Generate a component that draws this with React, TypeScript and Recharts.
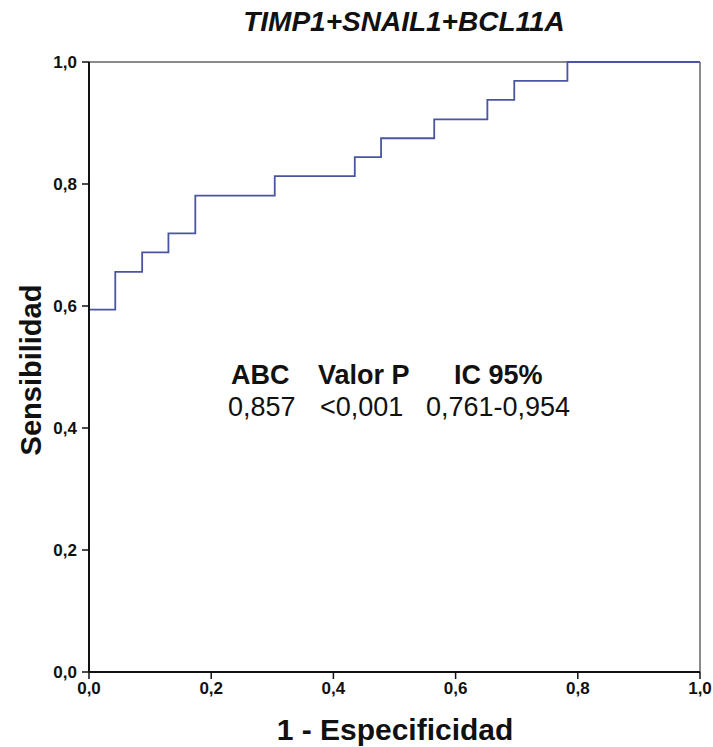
import { LineChart, Line, XAxis, YAxis, ReferenceLine } from 'recharts'

// ROC curve steps (1 - specificity, sensitivity)
const fpr = [0, 0.043, 0.087, 0.130, 0.174, 0.304, 0.435, 0.478, 0.565, 0.652, 0.696, 0.783, 1.0]
const tpr = [0.594, 0.656, 0.688, 0.719, 0.781, 0.813, 0.844, 0.875, 0.906, 0.938, 0.969, 1.0, 1.0]
const ticks = [0, 0.2, 0.4, 0.6, 0.8, 1.0]
const statHeads = ['ABC', 'Valor P', 'IC 95%']
const statValues = ['0,857', '<0,001', '0,761-0,954']

const rows = fpr.map((x, i) => ({ fpr: x, tpr: tpr[i] }))
const FONT = '"Liberation Sans", Arial, Helvetica, sans-serif'
const fmt = (v: number) => v.toFixed(1).replace('.', ',')
const tickStyle = { fill: '#111', fontSize: 17, fontWeight: 'bold', fontFamily: FONT }

export default function App() {
  return (
    <div style={{ position: 'absolute', left: 0, top: 0, width: 713, height: 747, background: '#fff' }}>
      <LineChart width={713} height={747} data={rows} margin={{ top: 62, right: 13, bottom: 0, left: 0 }}>
        <XAxis
          type="number"
          dataKey="fpr"
          domain={[0, 1]}
          ticks={ticks}
          tickFormatter={fmt}
          height={75}
          tickSize={7}
          tickMargin={3}
          axisLine={{ stroke: '#111', strokeWidth: 2 }}
          tickLine={{ stroke: '#111', strokeWidth: 1.5 }}
          tick={tickStyle}
        />
        <YAxis
          type="number"
          domain={[0, 1]}
          ticks={ticks}
          tickFormatter={fmt}
          width={89}
          tickSize={7}
          tickMargin={5}
          axisLine={{ stroke: '#111', strokeWidth: 2 }}
          tickLine={{ stroke: '#111', strokeWidth: 1.5 }}
          tick={tickStyle}
        />
        <ReferenceLine y={1} stroke="#8a8a8a" strokeWidth={2} />
        <ReferenceLine x={1} stroke="#8a8a8a" strokeWidth={2} />
        <Line type="stepAfter" dataKey="tpr" stroke="#4a55a0" strokeWidth={1.8} dot={false} isAnimationActive={false} />
      </LineChart>
      <svg width={713} height={747} style={{ position: 'absolute', left: 0, top: 0, pointerEvents: 'none' }}>
        <g fontFamily={FONT} fill="#111">
          <text x={404} y={31} textAnchor="middle" fontSize={28} fontWeight="bold" fontStyle="italic">
            TIMP1+SNAIL1+BCL11A
          </text>
          <text x={395} y={740} textAnchor="middle" fontSize={30} fontWeight="bold">
            1 - Especificidad
          </text>
          <text transform="translate(41,370) rotate(-90)" textAnchor="middle" fontSize={29} fontWeight="bold">
            Sensibilidad
          </text>
          <text x={231} y={384} fontSize={27} fontWeight="bold">{statHeads[0]}</text>
          <text x={318} y={384} fontSize={27} fontWeight="bold">{statHeads[1]}</text>
          <text x={454} y={384} fontSize={27} fontWeight="bold">{statHeads[2]}</text>
          <text x={228} y={416} fontSize={27}>{statValues[0]}</text>
          <text x={320} y={416} fontSize={27}>{statValues[1]}</text>
          <text x={426} y={416} fontSize={27}>{statValues[2]}</text>
        </g>
      </svg>
    </div>
  )
}
